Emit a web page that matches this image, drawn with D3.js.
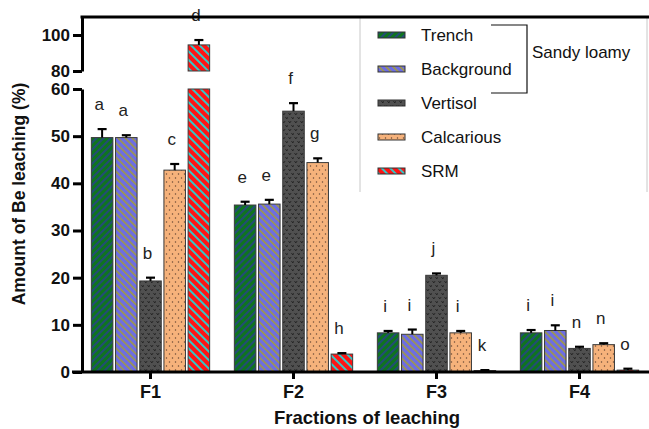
<!DOCTYPE html>
<html>
<head>
<meta charset="utf-8">
<script src="https://cdn.jsdelivr.net/npm/d3@7/dist/d3.min.js"></script>
<style>
  html, body { margin: 0; padding: 0; background: #fff; }
  svg { display: block; font-family: "Liberation Sans", Arial, sans-serif; }
</style>
</head>
<body>
<svg id="chart" width="649" height="429"></svg>
<script>
// Fractions on the x axis and the soil series
const fractions = ["F1", "F2", "F3", "F4"];
const series = ["Trench", "Background", "Vertisol", "Calcarious", "SRM"];

// Mean leaching (%) per fraction, one array per series
const trench     = [49.7, 35.4, 8.3, 8.3];
const background = [49.7, 35.6, 8.0, 8.8];
const vertisol   = [19.3, 55.3, 20.5, 5.0];
const calcarious = [42.8, 44.4, 8.3, 5.8];
const srm        = [94.5, 3.8, 0.3, 0.4];

// Standard error (upper whisker) per fraction
const trenchErr     = [1.8, 0.7, 0.4, 0.6];
const backgroundErr = [0.5, 0.9, 1.0, 1.1];
const vertisolErr   = [0.7, 1.7, 0.4, 0.35];
const calcariousErr = [1.3, 0.9, 0.4, 0.3];
const srmErr        = [2.7, 0.2, 0.1, 0.3];

// Significance letters
const trenchLetters     = ["a", "e", "i", "i"];
const backgroundLetters = ["a", "e", "i", "i"];
const vertisolLetters   = ["b", "f", "j", "n"];
const calcariousLetters = ["c", "g", "i", "n"];
const srmLetters        = ["d", "h", "k", "o"];

// Axis ticks for the two segments of the broken y axis
const lowTicks = [0, 10, 20, 30, 40, 50, 60];
const highTicks = [80, 100];

const means = [trench, background, vertisol, calcarious, srm];
const errs = [trenchErr, backgroundErr, vertisolErr, calcariousErr, srmErr];
const letters = [trenchLetters, backgroundLetters, vertisolLetters, calcariousLetters, srmLetters];

const svg = d3.select("#chart");
const defs = svg.append("defs");

// ---- fill patterns ----
function stripes(id, bg, fg, angle, period, w) {
  const p = defs.append("pattern").attr("id", id)
    .attr("patternUnits", "userSpaceOnUse")
    .attr("width", period).attr("height", period)
    .attr("patternTransform", `rotate(${angle})`);
  p.append("rect").attr("width", period).attr("height", period).attr("fill", bg);
  p.append("rect").attr("x", 0).attr("width", w).attr("height", period).attr("fill", fg);
}
stripes("p-trench", "#0f741f", "#24497c", 45, 5, 1.9);
stripes("p-background", "#6c6ce6", "#a39c3c", -45, 5, 1.6);
stripes("p-srm", "#ff1414", "#35c6c6", -45, 6, 2);

(function () {
  const p = defs.append("pattern").attr("id", "p-vertisol")
    .attr("patternUnits", "userSpaceOnUse").attr("width", 6).attr("height", 8);
  p.append("rect").attr("width", 6).attr("height", 8).attr("fill", "#505050");
  [[0, 0], [3, 4]].forEach(([dx, dy]) => {
    p.append("path").attr("d", `M${dx + 0.6},${dy + 1.2} L${dx + 1.8},${dy + 2.8} L${dx + 3},${dy + 1.2}`)
      .attr("fill", "none").attr("stroke", "#1c1c1c").attr("stroke-width", 1);
  });
  const q = defs.append("pattern").attr("id", "p-calcarious")
    .attr("patternUnits", "userSpaceOnUse").attr("width", 6).attr("height", 8);
  q.append("rect").attr("width", 6).attr("height", 8).attr("fill", "#f6b27b");
  [[1.5, 2], [4.5, 6]].forEach(([cx, cy]) => {
    q.append("circle").attr("cx", cx).attr("cy", cy).attr("r", 0.75).attr("fill", "#6a4a35");
  });
})();
const fills = ["url(#p-trench)", "url(#p-background)", "url(#p-vertisol)", "url(#p-calcarious)", "url(#p-srm)"];

// ---- scales ----
const x0 = d3.scaleBand().domain(fractions).range([79, 651]);
const x1 = d3.scaleBand().domain(series).range([0, 118.3]).paddingInner(0.11);
const groupLeft = f => x0(f) + x0.bandwidth() / 2 - 59.15;

const yLow = d3.scaleLinear().domain([0, 60]).range([372, 89]);
const yHigh = d3.scaleLinear().domain([80, 110]).range([71, 17]);
const yv = v => (v <= 60 ? yLow(v) : yHigh(v));

const axisX = 82;

// ---- legend frame ----
svg.append("line").attr("x1", 360).attr("x2", 360).attr("y1", 17).attr("y2", 192)
  .attr("stroke", "#c8c8c8").attr("stroke-width", 1);
svg.append("line").attr("x1", 647).attr("x2", 647).attr("y1", 17).attr("y2", 192)
  .attr("stroke", "#c8c8c8").attr("stroke-width", 1);

// ---- bars ----
const barsG = svg.append("g");
series.forEach((s, si) => {
  fractions.forEach((f, fi) => {
    const v = means[si][fi];
    const e = errs[si][fi];
    const bx = groupLeft(f) + x1(s);
    const bw = x1.bandwidth();
    const lowTop = Math.min(v, 60);
    barsG.append("rect")
      .attr("x", bx).attr("y", yLow(lowTop))
      .attr("width", bw).attr("height", yLow(0) - yLow(lowTop))
      .attr("fill", fills[si]).attr("stroke", "#3a3a3a").attr("stroke-width", 1);
    if (v > 80) {
      barsG.append("rect")
        .attr("x", bx).attr("y", yHigh(v))
        .attr("width", bw).attr("height", yHigh(80) - yHigh(v))
        .attr("fill", fills[si]).attr("stroke", "#3a3a3a").attr("stroke-width", 1);
    }
    // upper error whisker
    const cx = bx + bw / 2;
    const yTop = yv(v + e);
    barsG.append("line").attr("x1", cx).attr("x2", cx)
      .attr("y1", yv(v)).attr("y2", yTop)
      .attr("stroke", "#000").attr("stroke-width", 2);
    barsG.append("line").attr("x1", cx - 4.5).attr("x2", cx + 4.5)
      .attr("y1", yTop).attr("y2", yTop)
      .attr("stroke", "#000").attr("stroke-width", 2.2);
    // significance letter
    barsG.append("text")
      .attr("x", cx - 3).attr("y", yTop - 19)
      .attr("text-anchor", "middle")
      .attr("font-size", 17).attr("fill", "#222")
      .text(letters[si][fi]);
  });
});

// ---- axes ----
const lowAxis = d3.axisLeft(yLow).tickValues(lowTicks).tickSize(9).tickPadding(3).tickSizeOuter(0);
const highAxis = d3.axisLeft(yHigh).tickValues(highTicks).tickSize(9).tickPadding(3).tickSizeOuter(0);

function styleAxis(g) {
  g.select(".domain").attr("stroke", "#000").attr("stroke-width", 3);
  g.selectAll(".tick line").attr("stroke", "#000").attr("stroke-width", 3);
  g.selectAll(".tick text").attr("font-size", 17).attr("font-weight", "bold")
    .attr("fill", "#111").attr("font-family", "Liberation Sans, Arial, sans-serif");
}
svg.append("g").attr("transform", `translate(${axisX},0)`).call(lowAxis).call(styleAxis);
svg.append("g").attr("transform", `translate(${axisX},0)`).call(highAxis).call(styleAxis);

// top edge of the upper segment
svg.append("line").attr("x1", axisX - 1.5).attr("x2", 649).attr("y1", 17).attr("y2", 17)
  .attr("stroke", "#000").attr("stroke-width", 3);

// x axis
const xAxis = d3.axisBottom(x0).tickSize(7).tickPadding(6).tickSizeOuter(0);
const xg = svg.append("g").attr("transform", `translate(0,${yLow(0)})`).call(xAxis);
xg.select(".domain").remove();
xg.selectAll(".tick line").attr("stroke", "#000").attr("stroke-width", 3);
xg.selectAll(".tick text").attr("font-size", 18).attr("font-weight", "bold")
  .attr("fill", "#111").attr("font-family", "Liberation Sans, Arial, sans-serif");
svg.append("line").attr("x1", axisX - 10).attr("x2", 649)
  .attr("y1", yLow(0)).attr("y2", yLow(0))
  .attr("stroke", "#000").attr("stroke-width", 3);

// ---- axis titles ----
svg.append("text")
  .attr("transform", `translate(25,194) rotate(-90)`)
  .attr("text-anchor", "middle")
  .attr("font-size", 17.5).attr("font-weight", "bold").attr("fill", "#111")
  .text("Amount of Be leaching (%)");
svg.append("text")
  .attr("x", 367).attr("y", 424)
  .attr("text-anchor", "middle")
  .attr("font-size", 18.5).attr("font-weight", "bold").attr("fill", "#111")
  .text("Fractions of leaching");

// ---- legend ----
const legend = svg.append("g");
series.forEach((s, i) => {
  const cy = 35 + i * 34;
  legend.append("rect")
    .attr("x", 378).attr("y", cy - 3).attr("width", 27).attr("height", 6)
    .attr("fill", fills[i]).attr("stroke", "#333").attr("stroke-width", 1);
  legend.append("text")
    .attr("x", 421).attr("y", cy + 6)
    .attr("font-size", 17).attr("fill", "#111")
    .text(s);
});
legend.append("path")
  .attr("d", "M491,25 H527 V93 H491")
  .attr("fill", "none").attr("stroke", "#111").attr("stroke-width", 1.2);
legend.append("text")
  .attr("x", 532).attr("y", 58)
  .attr("font-size", 17).attr("fill", "#111")
  .text("Sandy loamy");
</script>
</body>
</html>
